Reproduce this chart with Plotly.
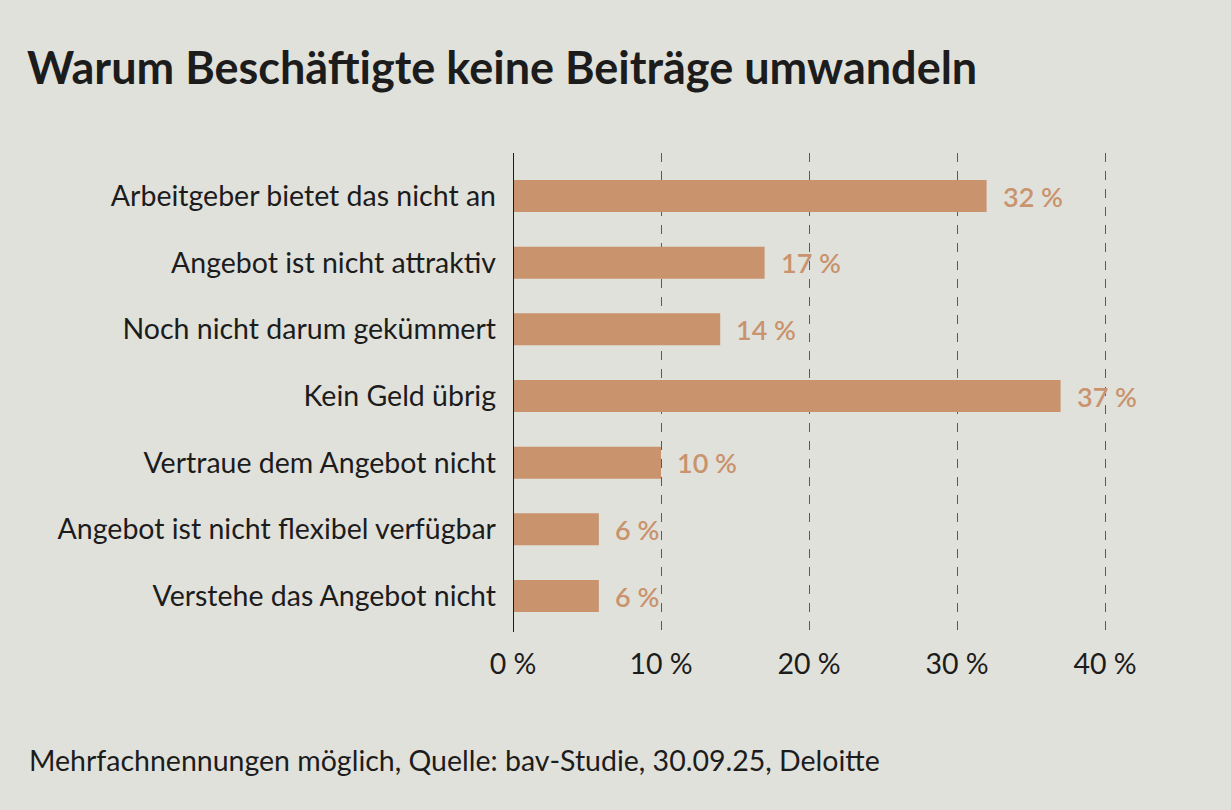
import plotly.graph_objects as go

categories = [
    "Arbeitgeber bietet das nicht an",
    "Angebot ist nicht attraktiv",
    "Noch nicht darum gekümmert",
    "Kein Geld übrig",
    "Vertraue dem Angebot nicht",
    "Angebot ist nicht flexibel verfügbar",
    "Verstehe das Angebot nicht",
]
values = [32, 17, 14, 37, 10, 5.8, 5.8]
value_labels = ["32 %", "17 %", "14 %", "37 %", "10 %", "6 %", "6 %"]
tick_vals = [0, 10, 20, 30, 40]
tick_text = ["0 %", "10 %", "20 %", "30 %", "40 %"]

title_text = "Warum Beschäftigte keine Beiträge umwandeln"
source_text = "Mehrfachnennungen möglich, Quelle: bav-Studie, 30.09.25, Deloitte"

BG = "#e1e1db"
BAR = "#c8936d"
TXT = "#1c1c1c"
FONT = "Lato"

W, H = 1231, 810
L, R, T, B = 513, 51, 153, 178
pw = W - L - R
ph = H - T - B

fig = go.Figure()
fig.add_trace(go.Bar(
    x=values, y=categories, orientation="h",
    marker=dict(color=BAR, line=dict(width=0)),
    hoverinfo="skip",
))

for v, c, lab in zip(values, categories, value_labels):
    fig.add_annotation(
        x=v, y=c, xref="x", yref="y", text=lab,
        showarrow=False, xanchor="left", yanchor="middle", xshift=14,
        font=dict(family=FONT, size=27, color=BAR, weight=600),
    )

fig.add_annotation(
    x=(27 - L) / pw, y=(T + ph - 760) / ph, xref="paper", yref="paper",
    text=source_text, showarrow=False, xanchor="left", yanchor="middle",
    font=dict(family=FONT, size=28.5, color=TXT),
)

fig.update_layout(
    width=W, height=H,
    margin=dict(l=L, r=R, t=T, b=B, pad=0),
    paper_bgcolor=BG, plot_bgcolor=BG,
    bargap=0.52,
    showlegend=False,
    font=dict(family=FONT, size=28.5, color=TXT),
    title=dict(
        text="<b>" + title_text + "</b>",
        xref="container", yref="container",
        x=27 / W, xanchor="left", y=1 - 68 / H, yanchor="middle",
        font=dict(family=FONT, size=45, color=TXT),
    ),
    xaxis=dict(
        range=[0, pw / 14.8],
        tickvals=tick_vals, ticktext=tick_text,
        showgrid=True, gridcolor="#5a5a5a", griddash="dash", gridwidth=1.3,
        zeroline=False, showline=False,
        ticks="", ticklabelstandoff=12,
        tickfont=dict(family=FONT, size=28.5, color=TXT),
        fixedrange=True,
    ),
    yaxis=dict(
        categoryorder="array", categoryarray=categories,
        range=[6.54, -0.645],
        showgrid=False, zeroline=False,
        showline=False,
        ticks="", ticklabelstandoff=16,
        tickfont=dict(family=FONT, size=28.5, color=TXT),
        fixedrange=True,
    ),
)

fig.add_shape(type="line", xref="x", yref="paper", x0=0, x1=0, y0=0, y1=1,
              line=dict(color="#1c1c1c", width=2), layer="above")

fig.write_html(
    "out.html",
    config={"displayModeBar": False},
    post_script="document.body.style.margin='0';document.documentElement.style.overflow='hidden';document.body.style.overflow='hidden';",
)
